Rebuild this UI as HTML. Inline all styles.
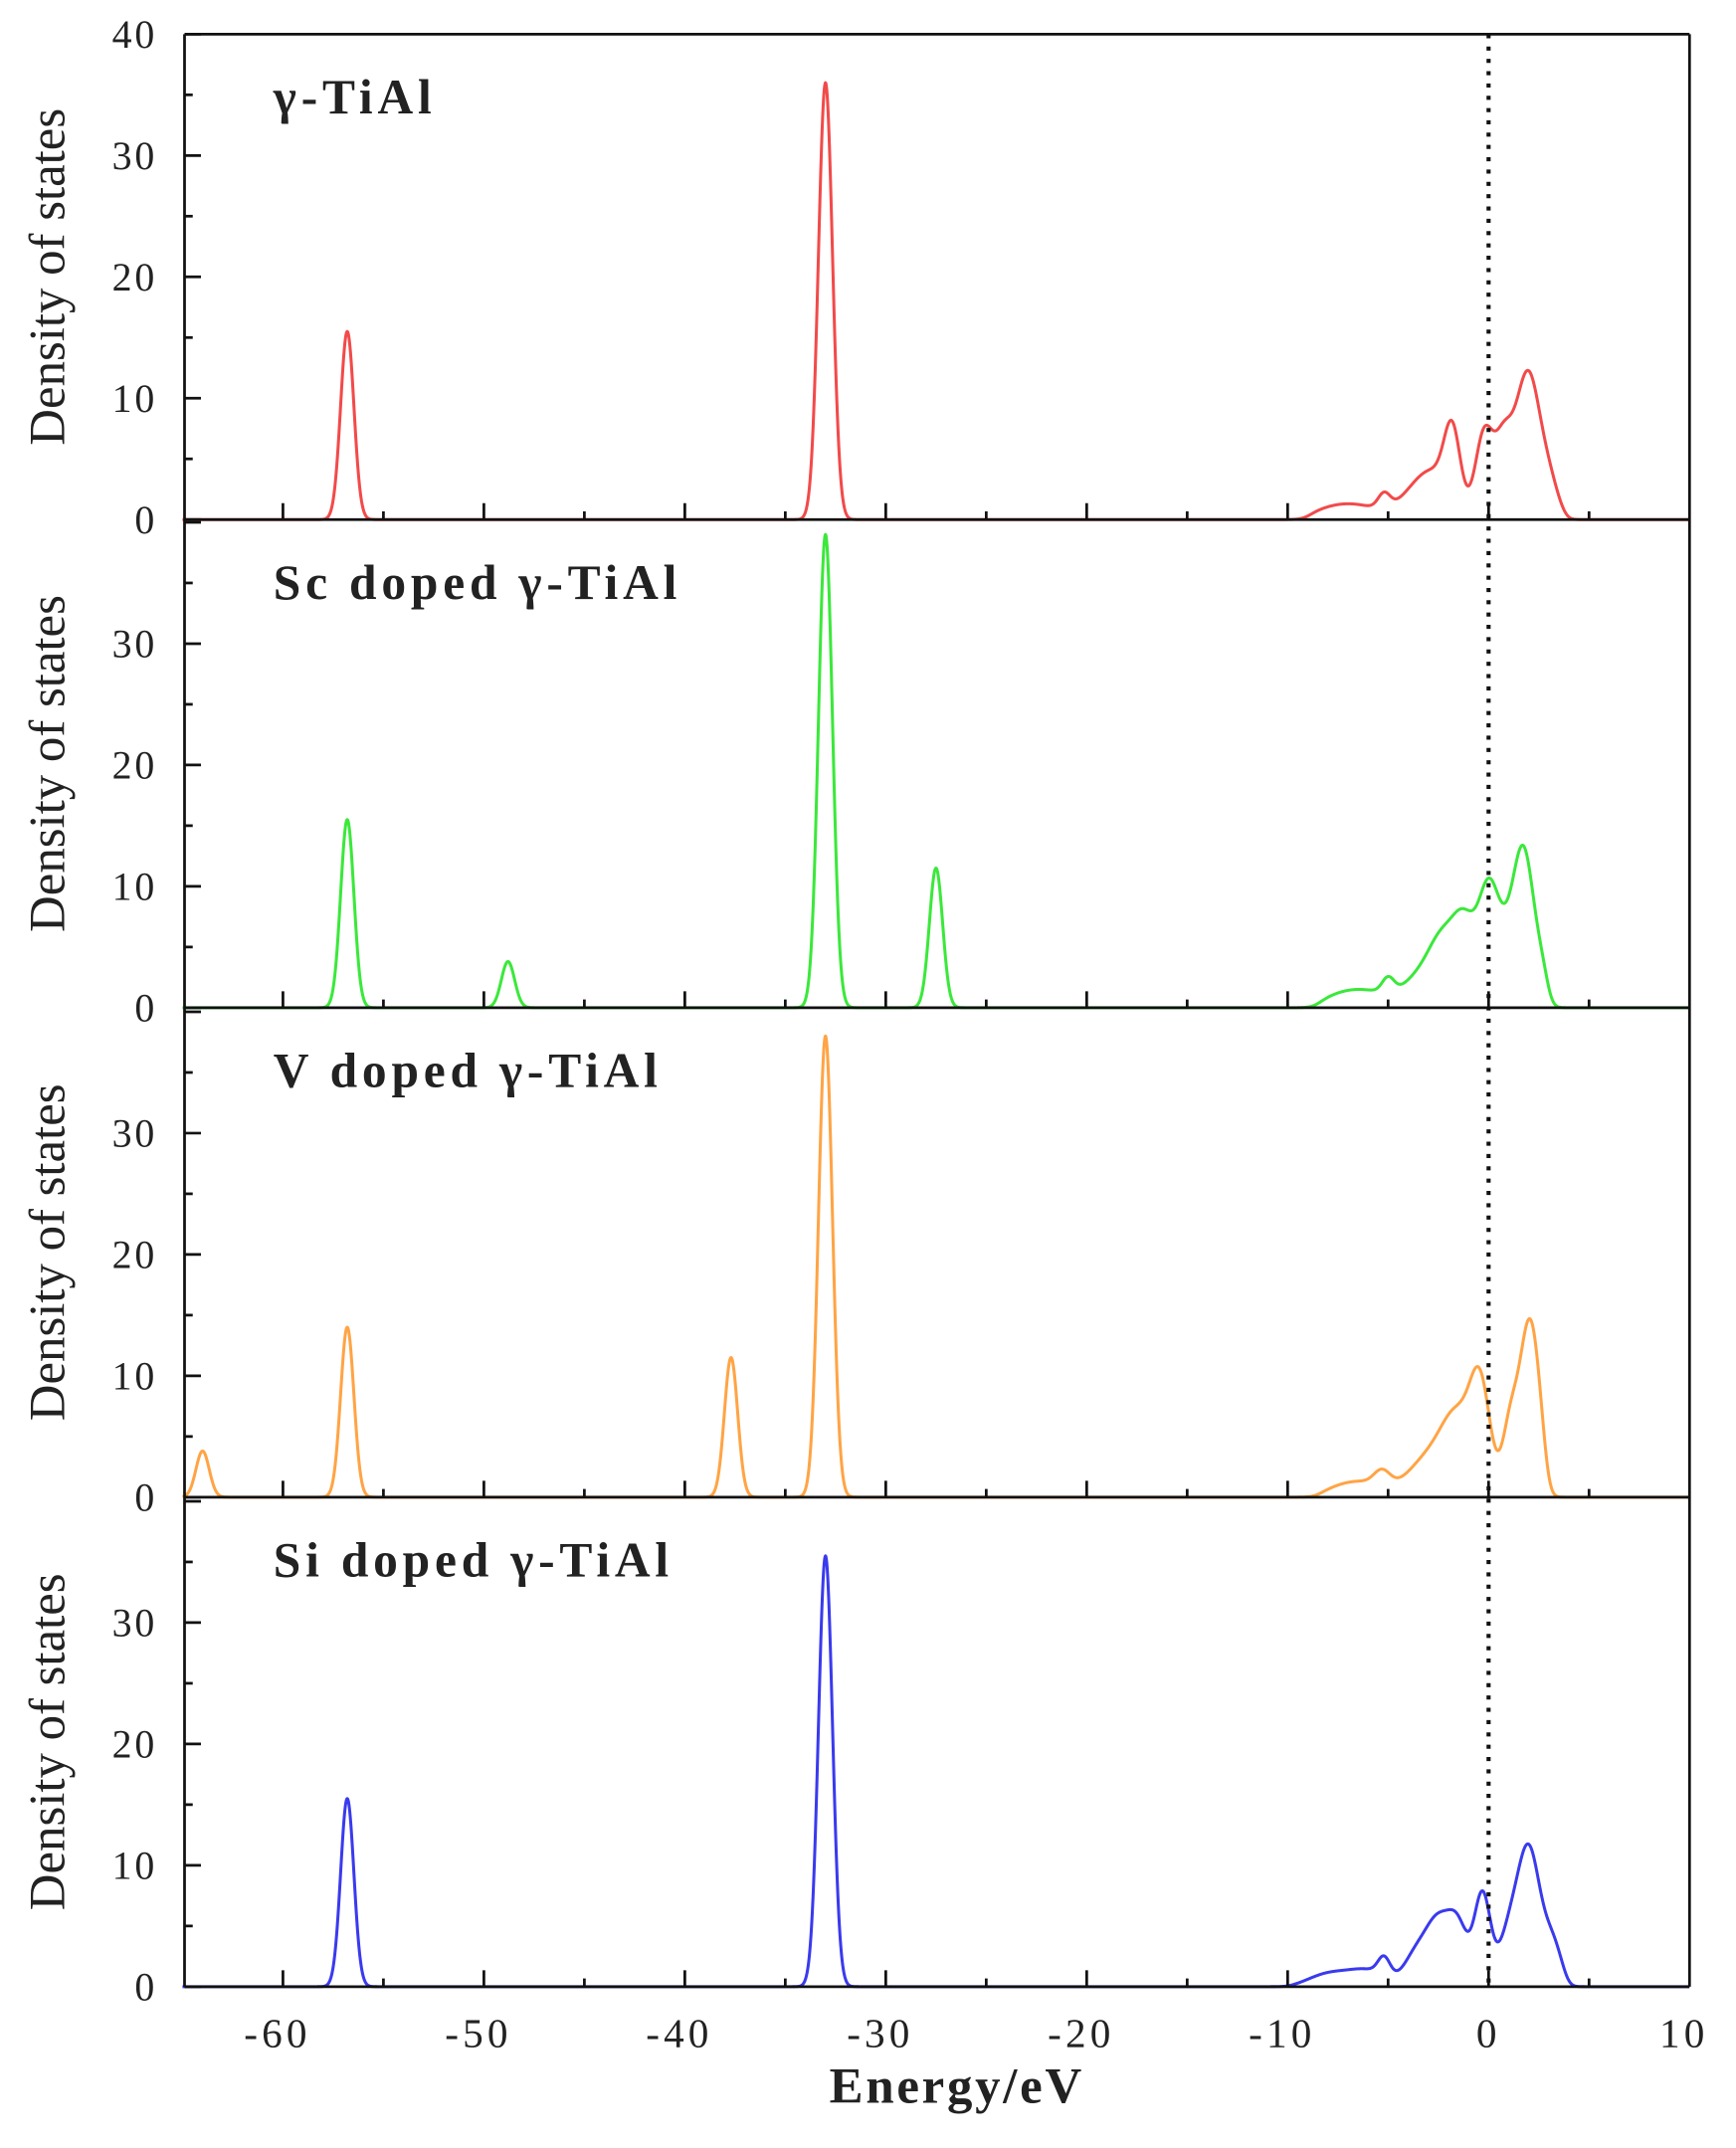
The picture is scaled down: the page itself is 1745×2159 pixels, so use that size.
<!DOCTYPE html>
<html><head><meta charset="utf-8"><style>
html,body{margin:0;padding:0;background:#fff;}
svg{display:block;}
text{font-family:"Liberation Serif",serif;fill:#222;}
</style></head><body>
<svg id="s" width="1745" height="2159" viewBox="0 0 1270 1571" preserveAspectRatio="none" xmlns="http://www.w3.org/2000/svg">
<g id="g"></g>
</svg>
<script>
const NS="http://www.w3.org/2000/svg";
const g=document.getElementById('g');
function el(t,a,txt){const e=document.createElementNS(NS,t);for(const k in a)e.setAttribute(k,a[k]);if(txt!==undefined)e.textContent=txt;g.appendChild(e);return e;}
const L=135,R=1236,TOP=25;
const bottoms=[380,737,1095,1453];
const X=e=>1089+e*14.7;
const SY=8.875;
function gs(x,c,h,s){return h*Math.exp(-0.5*((x-c)/s)**2);}
function win(x,a,b){const s1=1/(1+Math.exp(-(x-a)/0.25)), s2=1/(1+Math.exp((x-b)/0.2));return s1*s2;}
const panels=[
 {title:"γ-TiAl",color:"#f24a4a",
  sharp:[[-56.8,15.5,0.33],[-33.0,36,0.35]],
  val:[[-7,1.3,1.6],[-5.2,1.2,0.3],[-3.5,2.2,0.9],[-1.8,6,0.4],[-2.5,2.5,0.8],[-0.2,7.2,0.45],[0.7,4.5,0.4],[2,11,0.55],[3,3,0.5],[1.2,3,0.5]],va:-9,vb:4},
 {title:"Sc doped γ-TiAl",color:"#3be83b",
  sharp:[[-56.8,15.5,0.33],[-48.8,3.8,0.33],[-33.0,39,0.35],[-27.5,11.5,0.33]],
  val:[[-6.5,1.5,1.6],[-5,1.2,0.3],[-3,3,1],[-1.2,6.5,0.6],[0,8.5,0.5],[-2.3,3,0.6],[1.8,11,0.5],[1,5,0.6],[2.8,3,0.4]],va:-8.5,vb:3},
 {title:"V doped γ-TiAl",color:"#ffa445",
  sharp:[[-64,3.8,0.33],[-56.8,14,0.33],[-37.7,11.5,0.33],[-33.0,38,0.35]],
  val:[[-6.5,1.3,1.4],[-5.3,1.2,0.4],[-3,3,1],[-1.5,6,0.8],[-0.4,8,0.5],[1.1,6,0.4],[2,13,0.45],[2.6,4,0.4]],va:-8.5,vb:3},
 {title:"Si doped γ-TiAl",color:"#3a3aee",
  sharp:[[-56.8,15.5,0.33],[-33.0,35.5,0.35]],
  val:[[-8,1,1],[-6,1.3,1],[-5.2,1.5,0.3],[-3.6,2.5,0.6],[-2.5,5,0.6],[-1.5,4.5,0.5],[-0.3,7.5,0.4],[1,4,0.5],[2,11,0.55],[3.2,3.5,0.5]],va:-10,vb:4}
];
panels.forEach((p,i)=>{
  const B=bottoms[i], T=i==0?TOP:bottoms[i-1];
  let d="";
  for(let e=-65;e<=10;e+=0.02){
    let v=0;p.sharp.forEach(q=>v+=gs(e,q[0],q[1],q[2]));
    if(e>p.va-1&&e<p.vb+1){let w=0;p.val.forEach(q=>w+=gs(e,q[0],q[1],q[2]));v+=w*win(e,p.va,p.vb);}
    const y=B-v*SY;
    d+=(d?"L":"M")+X(e).toFixed(2)+","+y.toFixed(2);
  }
  el('path',{d,fill:'none',stroke:p.color,'stroke-width':2.2,'stroke-linejoin':'round'});
  el('text',{x:200,y:T+58,'font-size':36,'letter-spacing':3.5,'font-weight':'bold','fill':'#333'},p.title);
  for(let v=0;v<=40;v+=5){
    const y=B-v*SY; if(y<T-1)continue;
    const len=v%10==0?12:6;
    el('line',{x1:L,y1:y,x2:L+len,y2:y,stroke:'#111','stroke-width':2});
    if(v%10==0 && !(v==40&&i>0)) el('text',{x:115,y:y+10,'font-size':29,'letter-spacing':2,'text-anchor':'end'},v);
  }
  for(let e=-60;e<=5;e+=5){
    const len=e%10==0?12:6;
    el('line',{x1:X(e),y1:B,x2:X(e),y2:B-len,stroke:'#111','stroke-width':2});
  }
  el('line',{x1:L,y1:B,x2:R,y2:B,stroke:'#111','stroke-width':2});
  el('text',{x:0,y:0,'font-size':37,'text-anchor':'middle',transform:`translate(47,${(T+B)/2}) rotate(-90)`},"Density of states");
});
el('line',{x1:L,y1:TOP,x2:R,y2:TOP,stroke:'#111','stroke-width':2});
el('line',{x1:L,y1:TOP,x2:L,y2:1453,stroke:'#111','stroke-width':2});
el('line',{x1:R,y1:TOP,x2:R,y2:1453,stroke:'#111','stroke-width':2});
el('line',{x1:X(0),y1:TOP,x2:X(0),y2:1453,stroke:'#111','stroke-width':3,'stroke-dasharray':'3 6'});
for(let e=-60;e<=10;e+=10){
  el('text',{x:X(e)+(e==0?0:-4),y:1497,'font-size':30,'letter-spacing':3,'text-anchor':'middle'},e<0?"-"+(-e):String(e));
}
el('text',{x:700,y:1538,'font-size':37,'letter-spacing':2,'text-anchor':'middle','font-weight':'bold','fill':'#333'},"Energy/eV");
</script>
</body></html>
